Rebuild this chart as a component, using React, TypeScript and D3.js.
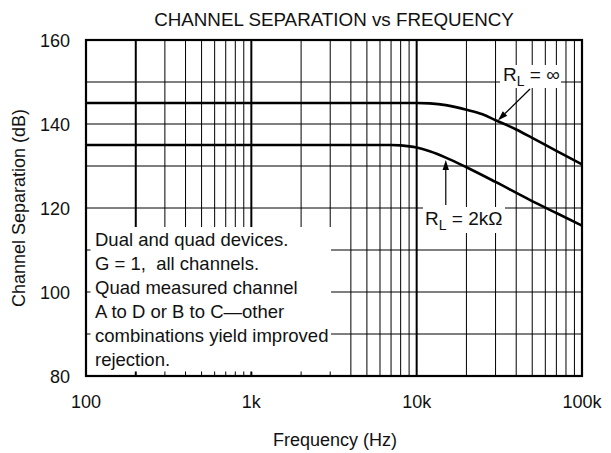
import * as d3 from 'd3';

// curve readings (Hz, dB)
const freqInf = [100, 10000, 12000, 15000, 20000, 25000, 30000, 40000, 50000, 70000, 100000];
const sepInf = [145, 145, 144.9, 144.5, 143.4, 142.3, 140.9, 138.7, 136.7, 133.6, 130.4];
const freq2k = [100, 7000, 8000, 10000, 12000, 15000, 20000, 30000, 48000, 70000, 100000];
const sep2k = [135, 135, 134.9, 134.4, 133.5, 132.0, 129.7, 126.2, 122.0, 118.8, 115.8];

const xTickValues = [100, 1000, 10000, 100000];
const xTickLabels = ['100', '1k', '10k', '100k'];
const yTickValues = [80, 100, 120, 140, 160];

const noteLines = [
  'Dual and quad devices.',
  'G = 1,  all channels.',
  'Quad measured channel',
  'A to D or B to C\u2014other',
  'combinations yield improved',
  'rejection.',
];

const FONT = '"Liberation Sans", Arial, Helvetica, sans-serif';

export default function App() {
  const x = d3.scaleLog().domain([100, 100000]).range([86, 582]);
  const y = d3.scaleLinear().domain([80, 160]).range([376, 40]);

  const line = d3
    .line<[number, number]>()
    .x((d) => x(d[0]))
    .y((d) => y(d[1]))
    .curve(d3.curveMonotoneX);

  const infPts = freqInf.map((f, i) => [f, sepInf[i]] as [number, number]);
  const k2Pts = freq2k.map((f, i) => [f, sep2k[i]] as [number, number]);

  const vGrid = x.ticks();
  const hGrid = y.ticks(8);

  // note box (white, covers grid)
  const box = { x0: 86, x1: 331, y0: 227, y1: 376 };

  // arrow helper
  const arrow = (x1: number, y1: number, x2: number, y2: number) => {
    const a = Math.atan2(y2 - y1, x2 - x1);
    const len = 10, hw = 3.2;
    const bx = x2 - len * Math.cos(a), by = y2 - len * Math.sin(a);
    const px = -Math.sin(a) * hw, py = Math.cos(a) * hw;
    return (
      <g>
        <line x1={x1} y1={y1} x2={bx} y2={by} stroke="#000" strokeWidth={1.2} />
        <polygon points={`${x2},${y2} ${bx + px},${by + py} ${bx - px},${by - py}`} fill="#000" />
      </g>
    );
  };

  return (
    <svg
      width={611}
      height={453}
      style={{ position: 'absolute', left: 0, top: 0, background: '#fff' }}
      fontFamily={FONT}
    >
      <rect width={611} height={453} fill="#fff" />
      <text x={334} y={26} textAnchor="middle" fontSize={18.8} fill="#111">
        CHANNEL SEPARATION vs FREQUENCY
      </text>

      {/* grid */}
      {vGrid.map((v) => {
        const major = v === 1000 || v === 10000 || v === 200;
        return (
          <line key={'v' + v} x1={x(v)} x2={x(v)} y1={y(80)} y2={y(160)} stroke="#000" strokeWidth={major ? 2 : 1} />
        );
      })}
      {hGrid.map((v) => (
        <line key={'h' + v} x1={x(100)} x2={x(100000)} y1={y(v)} y2={y(v)} stroke="#000" strokeWidth={1} />
      ))}

      {/* curves */}
      <path d={line(infPts) || ''} fill="none" stroke="#000" strokeWidth={2.6} />
      <path d={line(k2Pts) || ''} fill="none" stroke="#000" strokeWidth={2.6} />

      {/* note box */}
      <rect x={box.x0} y={box.y0} width={box.x1 - box.x0} height={box.y1 - box.y0} fill="#fff" />
      {hGrid
        .filter((v) => y(v) > box.y0 && v > 80)
        .map((v) => (
          <line key={'lt' + v} x1={box.x0} x2={box.x0 + 4.5} y1={y(v)} y2={y(v)} stroke="#000" strokeWidth={1} />
        ))}
      {vGrid
        .filter((v) => x(v) < box.x1 && v > 100)
        .map((v) => {
          const major = v === 1000 || v === 200;
          return (
            <line key={'bt' + v} x1={x(v)} x2={x(v)} y1={box.y1} y2={box.y1 - 4.5} stroke="#000" strokeWidth={major ? 2 : 1} />
          );
        })}
      {noteLines.map((t, i) => (
        <text key={t} x={95} y={246 + i * 24} fontSize={18.5} fill="#111" style={{ whiteSpace: 'pre' }}>
          {t}
        </text>
      ))}

      {/* curve labels */}
      <rect x={500} y={65} width={61} height={23} fill="#fff" />
      <text x={503} y={80.7} fontSize={19} fill="#111">
        R<tspan dy={5.3} fontSize={14}>L</tspan>
        <tspan dy={-5.3}> = ∞</tspan>
      </text>
      {arrow(530, 89, x(31000), y(140.7) - 0.5)}

      <rect x={423} y={207} width={82} height={26} fill="#fff" />
      <text x={425} y={225} fontSize={19} fill="#111">
        R<tspan dy={5} fontSize={14}>L</tspan>
        <tspan dy={-5}> = 2kΩ</tspan>
      </text>
      {arrow(x(15000), 205, x(15000), y(132.0) + 2.5)}

      {/* frame */}
      <rect x={x(100)} y={y(160)} width={x(100000) - x(100)} height={y(80) - y(160)} fill="none" stroke="#000" strokeWidth={2.2} />

      {/* axes labels */}
      {yTickValues.map((v) => (
        <text key={'yt' + v} x={70} y={y(v) + 6.5} textAnchor="end" fontSize={18} fill="#111">
          {v}
        </text>
      ))}
      {xTickValues.map((v, i) => (
        <text key={'xt' + v} x={x(v)} y={408} textAnchor="middle" fontSize={18} fill="#111">
          {xTickLabels[i]}
        </text>
      ))}
      <text x={335} y={446} textAnchor="middle" fontSize={18} fill="#111">
        Frequency (Hz)
      </text>
      <text transform={`translate(25,${(y(80) + y(160)) / 2}) rotate(-90)`} textAnchor="middle" fontSize={18} fill="#111">
        Channel Separation (dB)
      </text>
    </svg>
  );
}
